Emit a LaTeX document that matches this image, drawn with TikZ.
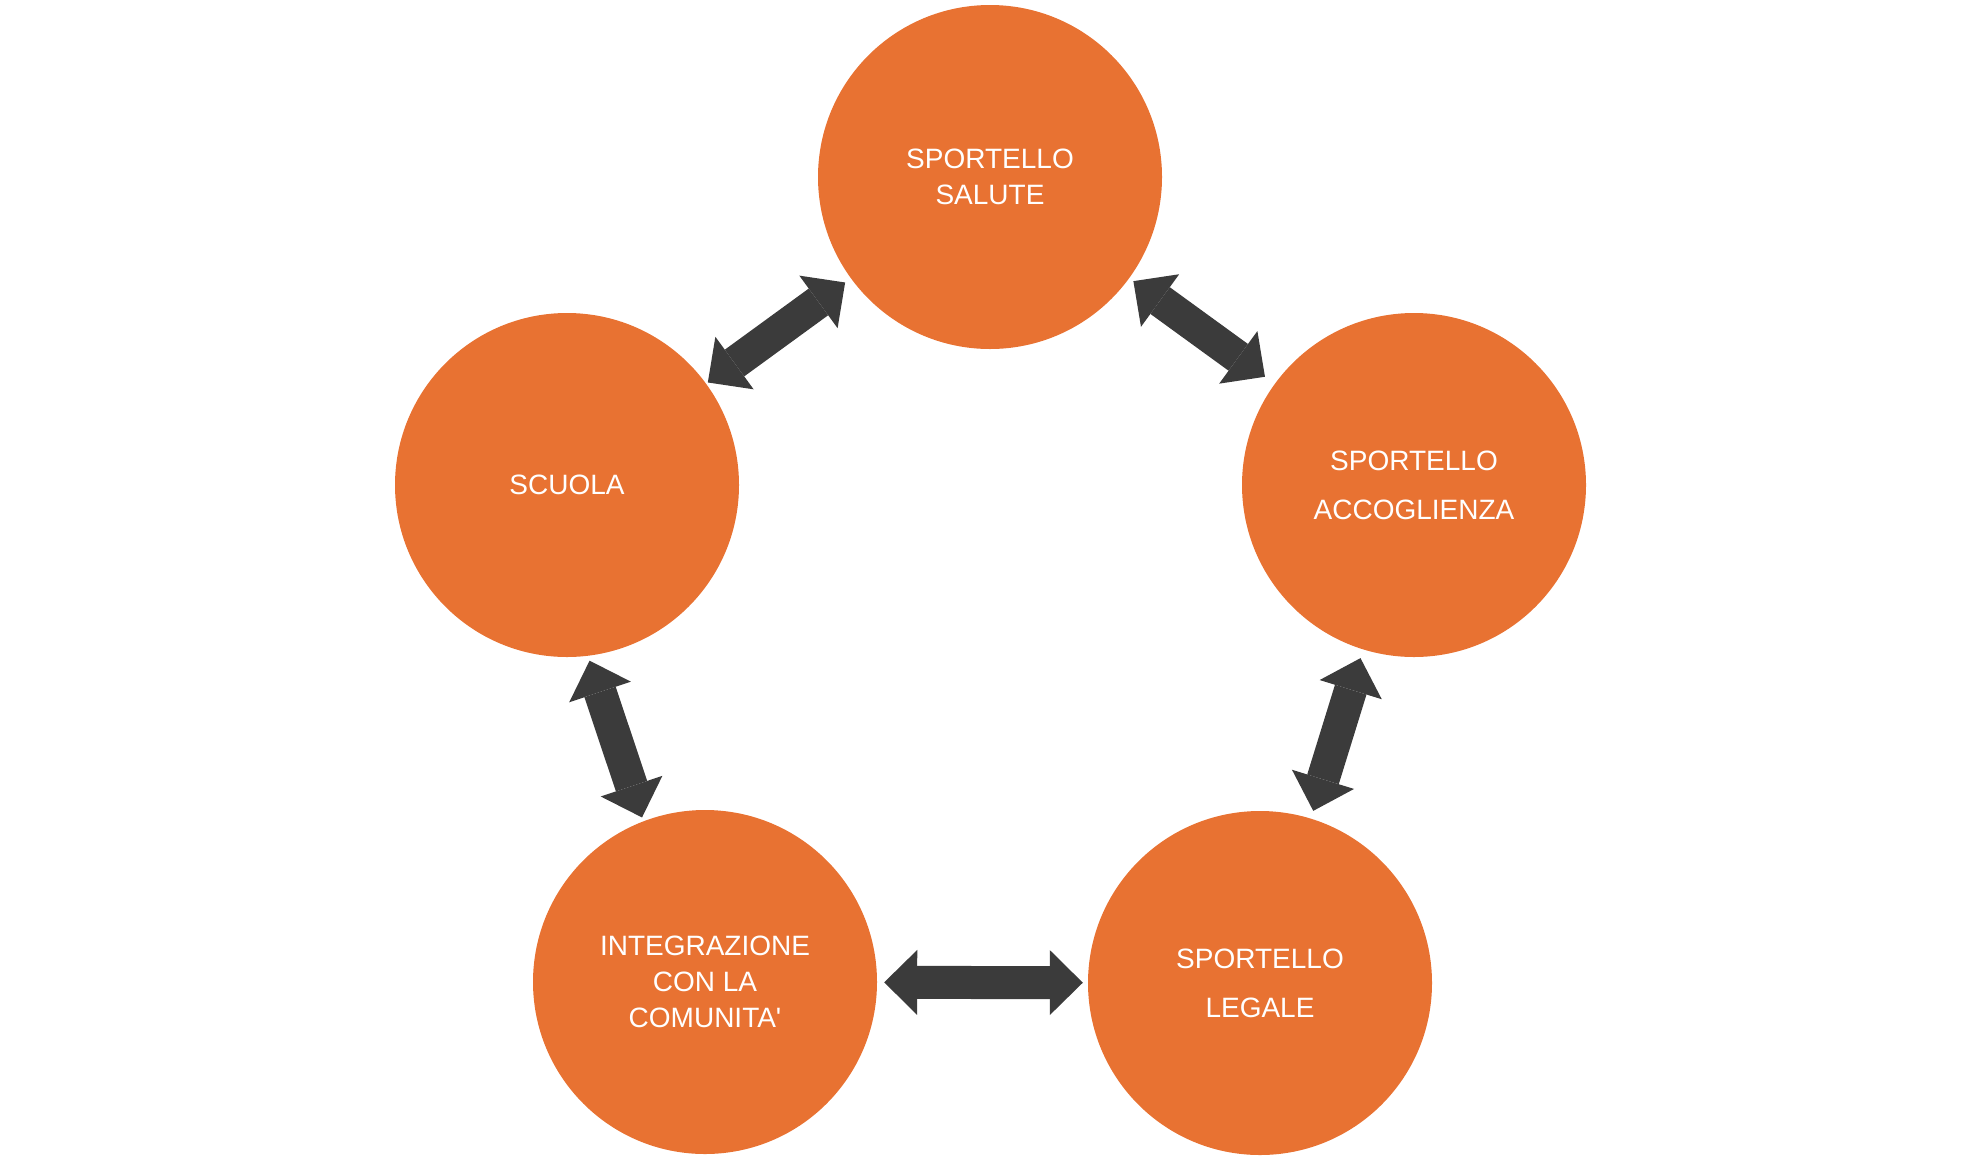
\documentclass[tikz,border=0pt]{standalone}
\usepackage{fontspec}
\setmainfont{Liberation Sans}
\usetikzlibrary{arrows.meta}
\definecolor{orangefill}{HTML}{E87232}
\definecolor{arrowgray}{HTML}{3B3B3B}
\tikzset{
  bubble/.style={circle, fill=orangefill, draw=none, minimum size=344pt, inner sep=0pt,
    text=white, align=center, font=\fontsize{28}{36}\selectfont},
  widebubble/.style={bubble, font=\fontsize{28}{49}\selectfont},
  bigtip/.tip={Triangle[width=65pt,length=33pt,line width=0pt]},
  link/.style={draw=arrowgray, line width=33pt, {bigtip}-{bigtip}}
}
\begin{document}
\begin{tikzpicture}[x=1pt,y=-1pt]
\useasboundingbox (0,0) rectangle (1980,1160);
\node[bubble] (salute) at (990,177) {SPORTELLO\\SALUTE};
\node[widebubble] (acc) at (1414,485) {SPORTELLO\\ACCOGLIENZA};
\node[widebubble] (legale) at (1260,983) {SPORTELLO\\LEGALE};
\node[bubble] (integ) at (705,982) {INTEGRAZIONE\\CON LA\\COMUNITA\textquotesingle};
\node[bubble] (scuola) at (567,485) {SCUOLA};
\draw[link, shorten <=2pt, shorten >=7pt] (scuola) -- (salute);
\draw[link, shorten <=5pt, shorten >=12pt] (salute) -- (acc);
\draw[link, shorten <=9pt, shorten >=8pt] (acc) -- (legale);
\draw[link, shorten <=5pt, shorten >=4pt] (scuola.-83.6) -- (integ.111.4);
\draw[link, shorten <=7pt, shorten >=5pt] (integ) -- (legale);
\end{tikzpicture}
\end{document}
